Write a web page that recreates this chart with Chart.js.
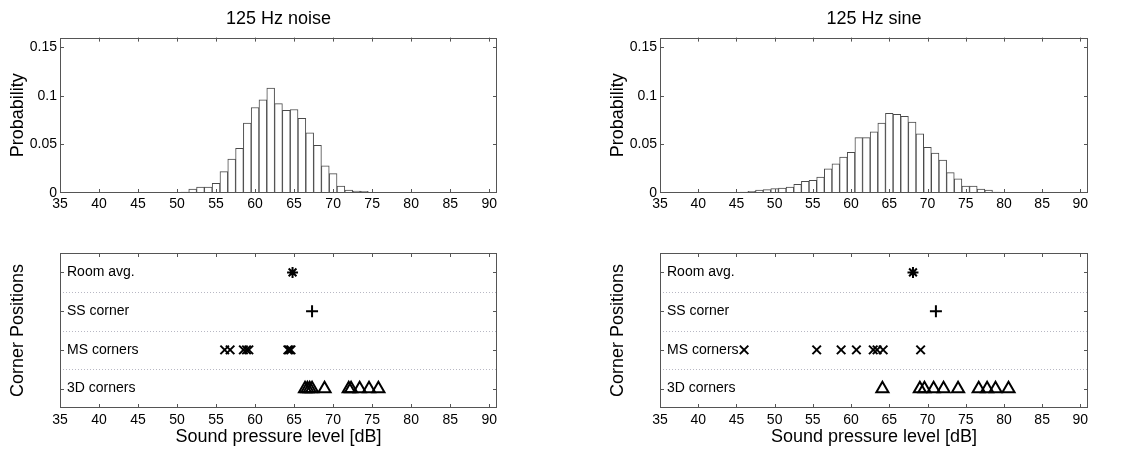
<!DOCTYPE html>
<html>
<head>
<meta charset="utf-8">
<script src="https://cdn.jsdelivr.net/npm/chart.js@4.4.1/dist/chart.umd.min.js"></script>
<style>
  html, body { margin: 0; padding: 0; background: #fff; }
  #wrap { position: relative; width: 1140px; height: 450px; overflow: hidden; }
  .cell { position: absolute; width: 570px; height: 225px; }
</style>
</head>
<body>
<div id="wrap">
  <div class="cell" style="left:0;top:0"><canvas id="c1" width="570" height="225"></canvas></div>
  <div class="cell" style="left:570px;top:0"><canvas id="c2" width="570" height="225"></canvas></div>
  <div class="cell" style="left:0;top:225px"><canvas id="c3" width="570" height="225"></canvas></div>
  <div class="cell" style="left:570px;top:225px"><canvas id="c4" width="570" height="225"></canvas></div>
</div>
<script>
// ---------------- DATA ----------------
const titles = ['125 Hz noise', '125 Hz sine'];
const xTickValues = [35, 40, 45, 50, 55, 60, 65, 70, 75, 80, 85, 90];
const probTickValues = [0, 0.05, 0.1, 0.15];
const probTickLabels = ['0', '0.05', '0.1', '0.15'];
const cornerCategories = ['3D corners', 'MS corners', 'SS corner', 'Room avg.'];

// histogram bin centres (dB) and probabilities
const noiseBins = [50,51,52,53,54,55,56,57,58,59,60,61,62,63,64,65,66,67,68,69,70,71,72,73,74,75];
const noiseProb = [0.0007,0.001,0.004,0.006,0.006,0.010,0.022,0.035,0.046,0.072,0.088,0.096,0.108,0.092,0.085,0.086,0.077,0.062,0.049,0.028,0.020,0.007,0.003,0.002,0.0017,0.0007];

const sineBins = [40,41,42,43,44,45,46,47,48,49,50,51,52,53,54,55,56,57,58,59,60,61,62,63,64,65,66,67,68,69,70,71,72,73,74,75,76,77,78,79];
const sineProb = [0.0005,0.0005,0.0005,0.0005,0.0005,0.0005,0.001,0.0017,0.003,0.0035,0.0045,0.005,0.006,0.009,0.012,0.013,0.0165,0.025,0.030,0.037,0.042,0.057,0.057,0.063,0.072,0.082,0.081,0.079,0.073,0.061,0.047,0.041,0.034,0.021,0.0145,0.007,0.007,0.004,0.003,0.001];

// corner position levels (dB)
const noiseRoom = [64.8];
const noiseSS = [67.3];
const noiseMS = [56.1, 56.8, 58.5, 58.9, 59.2, 64.2, 64.4, 64.6];
const noise3D = [66.4, 66.7, 67.0, 67.3, 68.9, 72.0, 72.3, 73.4, 74.6, 75.8];

const sineRoom = [68.1];
const sineSS = [71.1];
const sineMS = [46.0, 55.5, 58.7, 60.7, 62.9, 63.4, 64.2, 69.1];
const sine3D = [64.1, 69.0, 69.6, 70.8, 72.1, 74.0, 76.7, 77.8, 78.9, 80.6];

// ---------------- STYLE / HELPERS ----------------
const FONT = "'Liberation Sans', Arial, Helvetica, sans-serif";
const AXIS_COLOR = '#555555';

const boxPlugin = {
  id: 'mbox',
  beforeDatasetsDraw(chart, args, opts) {
    if (!opts.separators) return;
    const {ctx, chartArea: a, scales} = chart;
    ctx.save();
    ctx.strokeStyle = '#b8b8c4';
    ctx.lineWidth = 1;
    ctx.setLineDash([1, 2]);
    opts.separators.forEach(v => {
      const py = Math.round(scales.y.getPixelForValue(v)) + 0.5;
      ctx.beginPath(); ctx.moveTo(a.left, py); ctx.lineTo(a.right, py); ctx.stroke();
    });
    ctx.restore();
  },
  afterDraw(chart, args, opts) {
    const {ctx, chartArea: a, scales} = chart;
    ctx.save();
    ctx.strokeStyle = AXIS_COLOR;
    ctx.lineWidth = 1;
    ctx.strokeRect(Math.round(a.left) + 0.5, Math.round(a.top) + 0.5,
                   Math.round(a.right - a.left) - 1, Math.round(a.bottom - a.top) - 1);
    const L = 4;
    const line = (x1, y1, x2, y2) => { ctx.beginPath(); ctx.moveTo(x1, y1); ctx.lineTo(x2, y2); ctx.stroke(); };
    scales.x.ticks.forEach(t => {
      const px = Math.round(scales.x.getPixelForValue(t.value)) + 0.5;
      if (px <= a.left + 1 || px >= a.right - 1) return;
      line(px, a.top, px, a.top + L);
      line(px, a.bottom, px, a.bottom - L);
    });
    scales.y.ticks.forEach(t => {
      const py = Math.round(scales.y.getPixelForValue(t.value)) + 0.5;
      if (py <= a.top + 1 || py >= a.bottom - 1) return;
      line(a.left, py, a.left + L, py);
      line(a.right, py, a.right - L, py);
    });
    ctx.restore();
  }
};

function xScale(height, pad, withTitle) {
  return {
    type: 'linear', min: 35, max: 91, offset: false,
    afterBuildTicks: s => { s.ticks = xTickValues.map(v => ({value: v})); },
    afterFit: s => { s.height = height; },
    grid: {display: false, drawTicks: false, offset: false},
    border: {display: false},
    ticks: {color: '#000', font: {family: FONT, size: 14}, padding: pad, maxRotation: 0, autoSkip: false,
            callback: v => String(v)},
    title: withTitle ? {display: true, text: 'Sound pressure level [dB]', color: '#000',
                        font: {family: FONT, size: 18}, padding: {top: 0, bottom: 2}} : {display: false}
  };
}

function histChart(id, title, bins, probs, yWidth, yTitlePad, rightPad) {
  return new Chart(document.getElementById(id), {
    type: 'bar',
    data: {
      datasets: [{
        data: bins.map((b, i) => ({x: b, y: probs[i]})),
        backgroundColor: '#ffffff',
        borderColor: '#4a4a4a',
        borderWidth: 1,
        borderSkipped: false,
        barPercentage: 1,
        categoryPercentage: 1
      }]
    },
    options: {
      responsive: false, animation: false, devicePixelRatio: 1,
      layout: {padding: {top: 2, left: 0, right: rightPad, bottom: 0}},
      plugins: {
        legend: {display: false}, tooltip: {enabled: false},
        title: {display: true, text: title, fullSize: false, color: '#000',
                font: {family: FONT, size: 18, weight: 'normal'}, padding: {top: 6, bottom: 8}},
        mbox: {}
      },
      scales: {
        x: xScale(32, 3, false),
        y: {
          type: 'linear', min: 0, max: 0.16,
          afterBuildTicks: s => { s.ticks = probTickValues.map(v => ({value: v})); },
          afterFit: s => { s.width = yWidth; },
          grid: {display: false, drawTicks: false},
          border: {display: false},
          ticks: {color: '#000', font: {family: FONT, size: 14}, padding: 3,
                  callback: v => probTickLabels[probTickValues.indexOf(v)]},
          title: {display: true, text: 'Probability', color: '#000',
                  font: {family: FONT, size: 18}, padding: {top: yTitlePad, bottom: 0}}
        }
      }
    },
    plugins: [boxPlugin]
  });
}

function cornerChart(id, room, ss, ms, d3, yWidth, yTitlePad, rightPad) {
  const pts = (arr, cat) => arr.map(v => ({x: v, y: cat}));
  const base = {borderColor: '#000', backgroundColor: 'rgba(0,0,0,0)', borderWidth: 2, showLine: false};
  return new Chart(document.getElementById(id), {
    type: 'scatter',
    data: {
      datasets: [
        Object.assign({data: pts(room, 4), pointStyle: 'star', pointRadius: 5.5}, base),
        Object.assign({data: pts(ss, 3), pointStyle: 'cross', pointRadius: 6}, base),
        Object.assign({data: pts(ms, 2), pointStyle: 'crossRot', pointRadius: 6}, base),
        Object.assign({data: pts(d3, 1), pointStyle: 'triangle', pointRadius: 7}, base)
      ]
    },
    options: {
      responsive: false, animation: false, devicePixelRatio: 1,
      layout: {padding: {top: 28, left: 0, right: rightPad, bottom: 0}},
      plugins: {legend: {display: false}, tooltip: {enabled: false}, mbox: {separators: [1.5, 2.5, 3.5]}},
      scales: {
        x: xScale(42, 4, true),
        y: {
          type: 'linear', min: 0.5, max: 4.5,
          afterBuildTicks: s => { s.ticks = [1, 2, 3, 4].map(v => ({value: v})); },
          afterFit: s => { s.width = yWidth; },
          grid: {display: false, drawTicks: false},
          border: {display: false},
          ticks: {color: '#000', font: {family: FONT, size: 14}, mirror: true, padding: 7,
                  callback: v => cornerCategories[v - 1]},
          title: {display: true, text: 'Corner Positions', color: '#000',
                  font: {family: FONT, size: 18}, padding: {top: yTitlePad, bottom: 0}}
        }
      }
    },
    plugins: [boxPlugin]
  });
}

histChart('c1', titles[0], noiseBins, noiseProb, 60, 7, 73);
histChart('c2', titles[1], sineBins, sineProb, 90, 37, 52);
cornerChart('c3', noiseRoom, noiseSS, noiseMS, noise3D, 60, 7, 73);
cornerChart('c4', sineRoom, sineSS, sineMS, sine3D, 90, 37, 52);
</script>
</body>
</html>
